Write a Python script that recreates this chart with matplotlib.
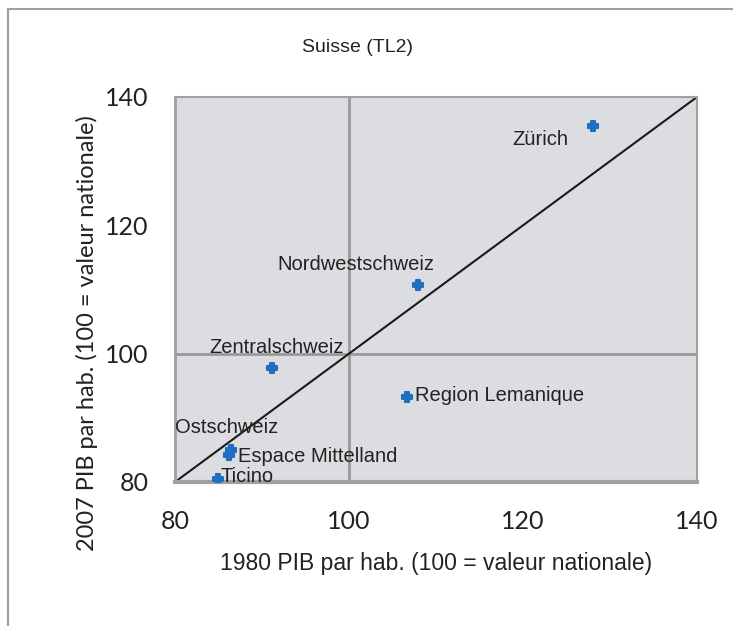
import matplotlib
matplotlib.use("Agg")
import matplotlib.pyplot as plt
from matplotlib.patches import Rectangle

regions = ["Zürich", "Nordwestschweiz", "Zentralschweiz", "Region Lemanique",
           "Ostschweiz", "Espace Mittelland", "Ticino"]
pib_1980 = [128.0, 107.9, 91.1, 106.7, 86.4, 86.2, 84.9]
pib_2007 = [135.5, 110.7, 97.8, 93.3, 85.0, 84.2, 80.5]
ticks = [80, 100, 120, 140]

fig = plt.figure(figsize=(7.33, 6.26), dpi=100)
fig.patch.set_facecolor("white")
fig.patches.append(Rectangle((8 / 733, -0.1), 1.2, 1 - 9 / 626 + 0.1,
                             transform=fig.transFigure, fill=False,
                             edgecolor="#a0a0a0", linewidth=1.5))

ax = fig.add_axes([175 / 733, 1 - 482 / 626, (697 - 175) / 733, (482 - 97) / 626])
ax.set_facecolor("#dcdde0")
ax.set_xlim(80, 140)
ax.set_ylim(80, 140)
for s in ax.spines.values():
    s.set_color("#a0a0a0")
    s.set_linewidth(1.5)
ax.spines["bottom"].set_linewidth(3)
ax.spines["left"].set_linewidth(2)

ax.axvline(100, color="#999999", lw=2, zorder=1)
ax.axhline(100, color="#999999", lw=2, zorder=1)
ax.plot([80, 140], [80, 140], color="#1a1a1a", lw=1.5, zorder=2)

ax.scatter(pib_1980, pib_2007, marker="P", s=60, color="#1f6fc0", zorder=3,
           linewidths=1.5, edgecolors="#1f6fc0")

tickfont = dict(family=["Lato", "DejaVu Sans"], size=18, color="#222222")
ax.set_xticks(ticks)
ax.set_yticks(ticks)
ax.set_xticklabels([str(t) for t in ticks], **tickfont)
ax.set_yticklabels([str(t) for t in ticks], **tickfont)
ax.tick_params(axis="y", length=0, pad=19)
ax.tick_params(axis="x", length=0, pad=20)

lab = dict(family=["Liberation Sans", "DejaVu Sans"], color="#222222")
fs = 14.5
# label offsets in pixels relative to the point
offsets = {
    "Zürich": (-24, -14, "right"),
    "Nordwestschweiz": (-62, 21, "center"),
    "Zentralschweiz": (5, 20, "center"),
    "Region Lemanique": (8, 1, "left"),
    "Ostschweiz": (-4, 22, "center"),
    "Espace Mittelland": (9, -1, "left"),
    "Ticino": (3, 2, "left"),
}
for name, x, y in zip(regions, pib_1980, pib_2007):
    dx, dy, ha = offsets[name]
    ax.annotate(name, (x, y), xytext=(dx * 0.72, dy * 0.72), textcoords="offset points",
                ha=ha, va="center", fontsize=fs, zorder=4, **lab)

ax.set_xlabel("1980 PIB par hab. (100 = valeur nationale)", fontsize=16.5, labelpad=14, **lab)
ax.set_ylabel("2007 PIB par hab. (100 = valeur nationale)", fontsize=17,
              family=["Lato", "DejaVu Sans"], color="#222222", va="center")
ax.yaxis.set_label_coords(-0.169, 0.387)
fig.text(357 / 733, 1 - 47 / 626, "Suisse (TL2)", ha="center", va="center",
         fontsize=14, **lab)

fig.savefig("out.png", dpi=100)
